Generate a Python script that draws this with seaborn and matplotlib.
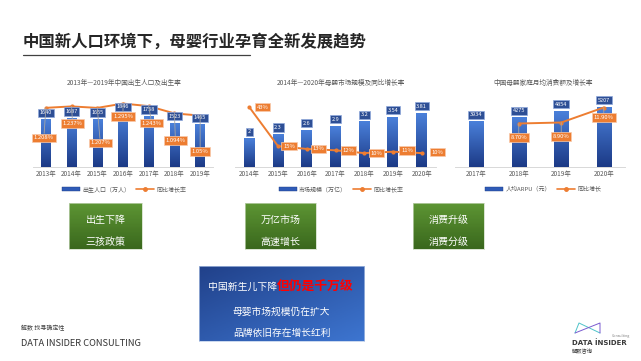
import numpy as np
import matplotlib
matplotlib.use("Agg")
import matplotlib.pyplot as plt
import seaborn as sns
from matplotlib.patches import Patch
from matplotlib.lines import Line2D
from matplotlib.colors import LinearSegmentedColormap

# ---- 数据 ----
anos_nasc = ['2013年', '2014年', '2015年', '2016年', '2017年', '2018年', '2019年']
nascimentos = [1640, 1687, 1655, 1846, 1758, 1523, 1465]
taxa_nasc = [1.208, 1.237, 1.207, 1.295, 1.243, 1.094, 1.05]
taxa_nasc_txt = ['1.208%', '1.237%', '1.207%', '1.295%', '1.243%', '1.094%', '1.05%']

anos_merc = ['2014年', '2015年', '2016年', '2017年', '2018年', '2019年', '2020年']
mercado = [2, 2.3, 2.6, 2.9, 3.2, 3.54, 3.81]
mercado_txt = ['2', '2.3', '2.6', '2.9', '3.2', '3.54', '3.81']
cresc_merc = [43, 15, 13, 12, 10, 11, 10]

anos_arpu = ['2017年', '2018年', '2019年', '2020年']
arpu = [3934, 4275, 4854, 5207]
cresc_arpu = [8.7, 8.9, 11.9]          # 2018-2020
cresc_arpu_txt = ['8.70%', '8.90%', '11.90%']

sns.set_theme(style='white')
plt.rcParams['font.family'] = ['Noto Sans CJK SC', 'DejaVu Sans']

W, H = 641, 361
LARANJA = '#ed7d31'
fig = plt.figure(figsize=(W / 100, H / 100), dpi=100)
fig.patch.set_facecolor('white')


def caixa(x0, y0, x1, y1):
    return [x0 / W, 1 - y1 / H, (x1 - x0) / W, (y1 - y0) / H]


cmap_barra = LinearSegmentedColormap.from_list('barra', ['#1c3a86', '#4a80da'])


def barras_gradiente(ax):
    grad = np.linspace(0, 1, 100).reshape(-1, 1)
    for p in list(ax.patches):
        x, w, h = p.get_x(), p.get_width(), p.get_height()
        p.set_facecolor('none')
        p.set_edgecolor('none')
        ax.imshow(grad, extent=[x, x + w, 0, h], origin='lower', aspect='auto',
                  cmap=cmap_barra, zorder=2)


def grafico(pos, cats, vals, vals_txt, xs_linha, linha, linha_txt, ylim, rlim,
            titulo, desloc, guia, leg_barra, leg_linha, cx_titulo, largura):
    ax = fig.add_axes(caixa(*pos))
    sns.barplot(x=cats, y=vals, ax=ax, width=largura, color='#2f5bb7', saturation=1)
    barras_gradiente(ax)
    n = len(cats)
    ax2 = ax.twinx()
    sns.lineplot(x=xs_linha, y=linha, ax=ax2, color=LARANJA, marker='o', markersize=3,
                 markeredgewidth=0, linewidth=1.4)
    ax.set_xlim(-0.5, n - 0.5)
    ax.set_ylim(*ylim)
    ax2.set_ylim(*rlim)
    for a in (ax, ax2):
        a.set_yticks([])
        a.set_ylabel('')
        a.set_xlabel('')
        for s in ('top', 'left', 'right'):
            a.spines[s].set_visible(False)
        a.spines['bottom'].set_color('#d9d9d9')
        a.spines['bottom'].set_linewidth(0.6)
    ax.tick_params(axis='x', labelsize=4.6, colors='#595959', length=0, pad=2)

    for i, (v, t) in enumerate(zip(vals, vals_txt)):
        ax2.annotate(t, xy=(i, v), xycoords=ax.transData, xytext=(0, 7),
                     textcoords='offset pixels', ha='center', va='center',
                     fontsize=4, color='white', zorder=6,
                     bbox=dict(boxstyle='square,pad=0.3', fc='#2e4f95', ec='#8fa9dc', lw=0.5))
    for x, v, t, (dx, dy) in zip(xs_linha, linha, linha_txt, desloc):
        ax2.annotate(t, xy=(x, v), xytext=(dx, dy), textcoords='offset pixels',
                     ha='center', va='center', fontsize=4.2, color='white', zorder=6,
                     bbox=dict(boxstyle='square,pad=0.3', fc=LARANJA, ec='#f8cbad', lw=0.5),
                     arrowprops=dict(arrowstyle='-', color='#a6a6a6', lw=0.6,
                                     shrinkA=0, shrinkB=0) if guia else None)

    fig.text(cx_titulo / W, 1 - 83 / H, titulo, ha='center', va='center',
             fontsize=4.8, color='#595959')
    alcas = [Patch(facecolor='#2f5bb7', edgecolor='#1c3a86', lw=0.3),
             Line2D([], [], color=LARANJA, marker='o', markersize=2.5, lw=1.2)]
    ax2.legend(alcas, [leg_barra, leg_linha], loc='center', ncol=2, frameon=False,
               fontsize=4.3, bbox_to_anchor=(cx_titulo / W, 1 - 189 / H),
               bbox_transform=fig.transFigure, handlelength=3, handleheight=0.6,
               columnspacing=1.0, handletextpad=0.4, labelcolor='#595959')


# Gráfico 1
grafico((33, 95, 213, 167), anos_nasc, nascimentos, [str(v) for v in nascimentos],
        list(range(7)), taxa_nasc, taxa_nasc_txt, (0, 2500), (0, 1.47),
        '2013年—2019年中国出生人口及出生率',
        [(-2, -30), (1, -17), (3, -35), (0, -13), (3, -17), (1, -27), (0, -36)],
        True, '出生人口（万人）', '同比增长率', 124, 0.37)

# Gráfico 2
grafico((235, 95, 436, 167), anos_merc, mercado, mercado_txt,
        list(range(7)), cresc_merc, [f'{v}%' for v in cresc_merc], (0, 5.1), (0, 51.8),
        '2014年—2020年母婴市场规模及同比增长率',
        [(13, 0), (11, 0), (12, 0), (13, 0), (12, 0), (14, 1), (16, 1)],
        False, '市场规模（万亿）', '同比增长率', 341, 0.38)

# Gráfico 3
grafico((455, 95, 625, 167), anos_arpu, arpu, [str(v) for v in arpu],
        [1, 2, 3], cresc_arpu, cresc_arpu_txt, (0, 6260), (0, 14.4),
        '中国母婴家庭月均消费额及增长率',
        [(0, -14), (0, -14), (0, -10)],
        True, '人均ARPU（元）', '同比增长', 543, 0.33)

# Título
fig.text(23 / W, 1 - 42 / H, '中国新人口环境下，母婴行业孕育全新发展趋势', ha='left',
         va='center', fontsize=11.8, fontweight='bold', color='#262626')
fig.add_artist(Line2D([23 / W, 250 / W], [1 - 55 / H] * 2, transform=fig.transFigure,
                      color='#404040', lw=0.9))

# Caixas verdes
cmap_verde = LinearSegmentedColormap.from_list('verde', ['#3a681d', '#5e9634'])
for x0, x1, l1, l2 in [(69, 142, '出生下降', '三孩政策'),
                       (245, 316, '万亿市场', '高速增长'),
                       (413, 484, '消费升级', '消费分级')]:
    a = fig.add_axes(caixa(x0, 203, x1, 249))
    a.imshow(np.linspace(0, 1, 50).reshape(-1, 1), origin='lower', aspect='auto',
             cmap=cmap_verde, extent=[0, 1, 0, 1])
    a.set_xticks([])
    a.set_yticks([])
    for s in a.spines.values():
        s.set_color('#c9d9bd')
        s.set_linewidth(0.5)
    a.text(0.5, (249 - 220) / 46, l1, ha='center', va='center', color='white', fontsize=7.2)
    a.text(0.5, (249 - 242) / 46, l2, ha='center', va='center', color='white', fontsize=7.2)

# Caixa azul
cmap_azul = LinearSegmentedColormap.from_list('azul', ['#21418a', '#3d75d0'])
gx, gy = np.meshgrid(np.linspace(0, 1, 80), np.linspace(0, 1, 40))
a = fig.add_axes(caixa(199, 266, 364, 341))
a.imshow((gx + gy) / 2, origin='upper', aspect='auto', cmap=cmap_azul, extent=[0, 1, 0, 1])
a.set_xticks([])
a.set_yticks([])
for s in a.spines.values():
    s.set_color('#b4c7e7')
    s.set_linewidth(0.5)
fig.text(277 / W, 1 - 287 / H, '中国新生儿下降', ha='right', va='center', color='white',
         fontsize=7.1)
fig.text(277 / W, 1 - 287 / H, '但仍是千万级', ha='left', va='center', color='#ff0000',
         fontsize=9.2, fontweight='bold')
fig.text(281.5 / W, 1 - 312 / H, '母婴市场规模仍在扩大', ha='center', va='center',
         color='white', fontsize=7)
fig.text(281.5 / W, 1 - 333 / H, '品牌依旧存在增长红利', ha='center', va='center',
         color='white', fontsize=7)

# Rodapé
fig.text(21 / W, 1 - 328 / H, '解数 找寻确定性', ha='left', va='center', fontsize=4.3,
         color='#404040')
fig.text(21 / W, 1 - 343 / H, 'DATA INSIDER CONSULTING', ha='left', va='center',
         fontsize=6.7, color='#333333')

# Logo
logo_x = [575, 579, 600, 600, 575]
logo_y = [333, 323, 333, 323, 333]
fig.add_artist(Line2D([x / W for x in logo_x[:3]], [1 - y / H for y in logo_y[:3]],
                      transform=fig.transFigure, color='#4fc3c9', lw=0.7))
fig.add_artist(Line2D([x / W for x in logo_x[2:]], [1 - y / H for y in logo_y[2:]],
                      transform=fig.transFigure, color='#7a5bd0', lw=0.7))
fig.text(572 / W, 1 - 343 / H, 'DATA İNSIDER', ha='left', va='center', fontsize=5,
         fontweight='bold', color='#3a3a3a', family=['DejaVu Sans'])
fig.text(572 / W, 1 - 352 / H, '解数咨询', ha='left', va='center', fontsize=3.8,
         color='#3a3a3a')
fig.text(630 / W, 1 - 336 / H, 'Consulting', ha='right', va='center', fontsize=2.6,
         color='#808080')

fig.savefig('out.png', dpi=100, facecolor='white')
